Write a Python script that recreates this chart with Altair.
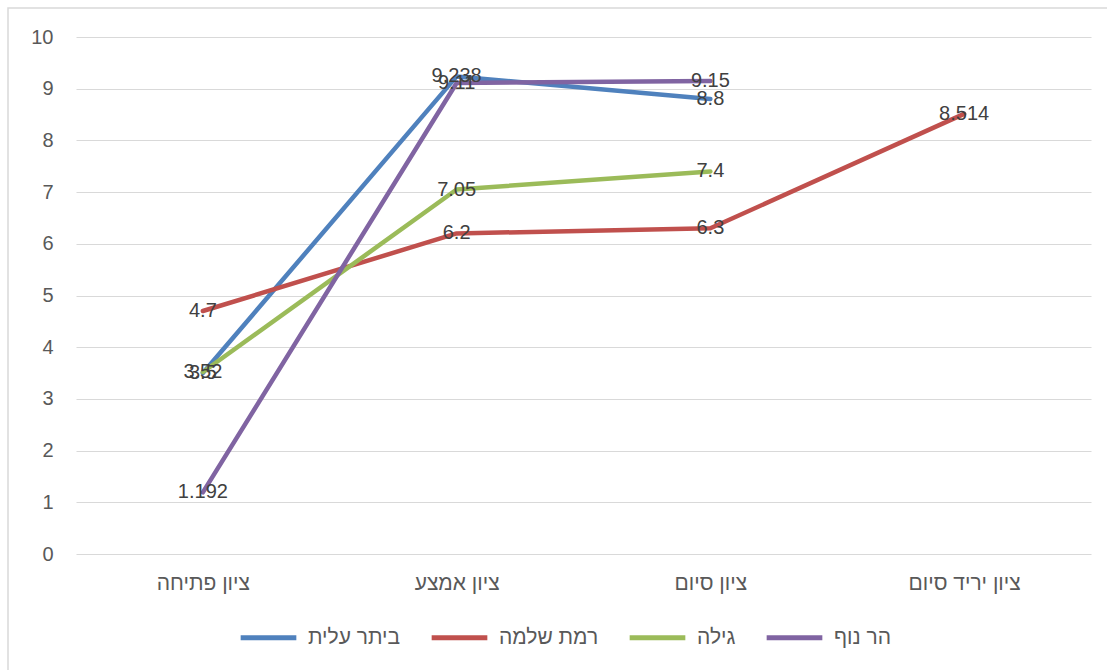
import altair as alt
import pandas as pd

categories = ["ציון פתיחה", "ציון אמצע", "ציון סיום", "ציון יריד סיום"]
series_names = ["ביתר עלית", "רמת שלמה", "גילה", "הר נוף"]
colors = ["#4F81BD", "#C0504D", "#9BBB59", "#8064A2"]

beitar = [3.5, 9.238, 8.8, None]
ramat = [4.7, 6.2, 6.3, 8.514]
gilo = [3.52, 7.05, 7.4, None]
harnof = [1.192, 9.11, 9.15, None]

rows = []
for name, vals in zip(series_names, [beitar, ramat, gilo, harnof]):
    for c, v in zip(categories, vals):
        if v is not None:
            rows.append({"cat": c, "series": name, "value": v})
df = pd.DataFrame(rows)

W, H = 1015, 517
PL, PT = 76, 37
FONT = "Liberation Sans"

x = alt.X("cat:N", sort=categories, title=None,
          scale=alt.Scale(paddingInner=0, paddingOuter=0.5),
          axis=alt.Axis(labelAngle=0, ticks=False, domain=False, labelPadding=18,
                        labelFontSize=21, labelColor="#595959", labelFont=FONT))
y = alt.Y("value:Q", title=None,
          scale=alt.Scale(domain=[0, 10], nice=False),
          axis=alt.Axis(values=list(range(11)), ticks=False, domain=False, labelPadding=23,
                        labelFontSize=20, labelColor="#595959", gridColor="#d9d9d9",
                        labelFont=FONT))
color = alt.Color("series:N", sort=series_names,
                  scale=alt.Scale(domain=series_names, range=colors),
                  legend=alt.Legend(title=None, orient="none", direction="horizontal",
                                    legendX=162, legendY=570, symbolType="stroke",
                                    symbolSize=3100, symbolStrokeWidth=5,
                                    labelFontSize=21, labelColor="#595959",
                                    labelFont=FONT, columnPadding=20,
                                    labelOffset=9))

base = alt.Chart(df)
lines = base.mark_line(strokeWidth=4.5, strokeCap="round", strokeJoin="round").encode(
    x=x, y=y, color=color, detail="series:N")
labels = base.mark_text(fontSize=20, color="#404040", font=FONT).encode(
    x=alt.X("cat:N", sort=categories), y="value:Q", text="value:Q")

border = alt.Chart(pd.DataFrame({"a": [0]})).mark_rect(
    fill=None, stroke="#d9d9d9", strokeWidth=1.5).encode(
    x=alt.value(-PL + 8), x2=alt.value(1107 - PL + 20),
    y=alt.value(-PT + 8), y2=alt.value(670 - PT + 20))

chart = alt.layer(border, lines, labels).properties(
    width=W, height=H,
    autosize=alt.AutoSizeParams(type="none"),
    padding={"left": PL, "top": PT, "right": 1107 - PL - W, "bottom": 670 - PT - H},
    background="white",
).configure_view(stroke=None)

chart.save("out.html", embed_options={"renderer": "svg", "actions": False})
